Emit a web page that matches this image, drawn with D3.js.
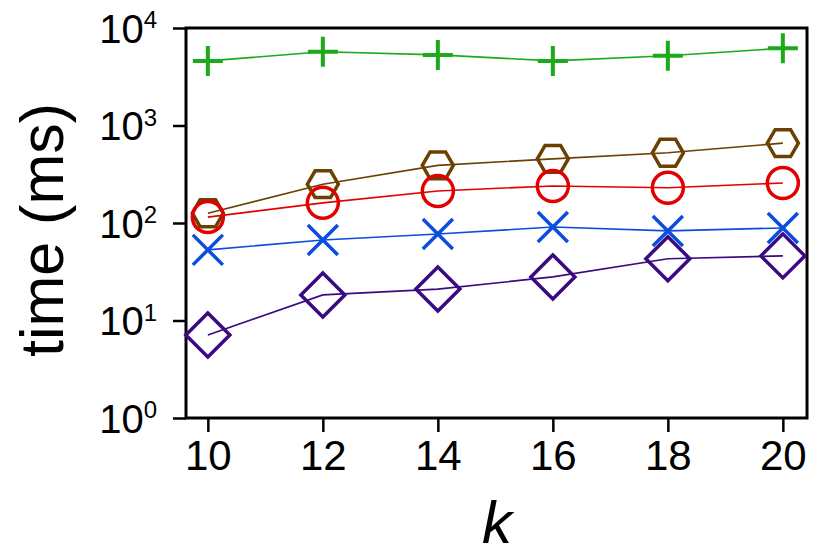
<!DOCTYPE html>
<html>
<head>
<meta charset="utf-8">
<script src="https://cdn.jsdelivr.net/npm/d3@7"></script>
<style>
  body { margin: 0; background: #fff; }
  text { font-family: "Liberation Sans", Arial, Helvetica, sans-serif; }
</style>
</head>
<body>
<svg id="chart" width="830" height="554"></svg>
<script>
// data
const ks = [10, 12, 14, 16, 18, 20]
const plusSeries    = [4600, 5700, 5300, 4600, 5200, 6200]
const hexSeries     = [126, 250, 390, 455, 525, 660]
const circleSeries  = [115, 161, 213, 240, 230, 257]
const crossSeries   = [53, 67, 77, 91, 83, 89]
const diamondSeries = [7.1, 18.3, 21, 28, 43, 46]
const yTickExps = [0, 1, 2, 3, 4]

const series = [
  { vals: plusSeries,    color: "#1aaa1a", shape: "plus" },
  { vals: hexSeries,     color: "#6b4000", shape: "hex" },
  { vals: circleSeries,  color: "#e20000", shape: "circle" },
  { vals: crossSeries,   color: "#0a4de0", shape: "cross" },
  { vals: diamondSeries, color: "#3a0a82", shape: "diamond" }
]

const svg = d3.select("#chart")
const pL = 186, pR = 807, pT = 28, pB = 418

const x = d3.scaleLinear().domain([9.62, 20.42]).range([pL, pR])
const y = d3.scaleLog().domain([1, 1e4]).range([pB, pT])

// axes box
svg.append("rect")
  .attr("x", pL).attr("y", pT)
  .attr("width", pR - pL).attr("height", pB - pT)
  .attr("fill", "none").attr("stroke", "#000").attr("stroke-width", 3)

// x axis
const gx = svg.append("g").attr("transform", "translate(0," + pB + ")")
gx.call(d3.axisBottom(x).tickValues(ks).tickSize(14).tickPadding(8).tickSizeOuter(0))
gx.select(".domain").remove()
gx.selectAll(".tick line").attr("stroke-width", 2.5)
gx.selectAll(".tick text")
  .attr("font-size", 42).attr("fill", "#000")
  .attr("dy", "0.71em")
  .style("font-family", '"Liberation Sans", Arial, sans-serif')

// y axis
const gy = svg.append("g").attr("transform", "translate(" + pL + ",0)")
gy.call(d3.axisLeft(y).tickValues(yTickExps.map(e => Math.pow(10, e))).tickSize(13).tickFormat(""))
gy.select(".domain").remove()
gy.selectAll(".tick line").attr("stroke-width", 2.5)
gy.selectAll(".tick").each(function(d) {
  const t = d3.select(this).append("text")
    .attr("x", -29).attr("y", 0).attr("dy", "0.36em")
    .attr("text-anchor", "end").attr("fill", "#000")
    .attr("font-size", 40)
  t.append("tspan").text("10")
  t.append("tspan").attr("font-size", 24).attr("dy", "-0.62em")
    .text(Math.round(Math.log10(d)))
})

// axis titles
svg.append("text")
  .attr("transform", "translate(63,230) rotate(-90)")
  .attr("text-anchor", "middle")
  .attr("font-size", 61)
  .text("time (ms)")

svg.append("text")
  .attr("x", 497).attr("y", 543)
  .attr("text-anchor", "middle")
  .attr("font-size", 60)
  .attr("font-style", "italic")
  .text("k")

// lines
const line = d3.line().x((d, i) => x(ks[i])).y(d => y(d))

series.forEach(s => {
  svg.append("path")
    .datum(s.vals)
    .attr("fill", "none")
    .attr("stroke", s.color)
    .attr("stroke-width", 1.6)
    .attr("d", line)
})

// markers
function markerPath(shape) {
  if (shape == "plus") return "M-15,0H15M0,-15V15"
  if (shape == "cross") return "M-15,-15L15,15M-15,15L15,-15"
  if (shape == "diamond") return "M0,-22L22,0L0,22L-22,0Z"
  if (shape == "hex") {
    let pts = d3.range(6).map(i => {
      const a = Math.PI / 3 * i
      return [15.5 * Math.cos(a), 15.5 * Math.sin(a)]
    })
    return "M" + pts.map(p => p.join(",")).join("L") + "Z"
  }
  return null
}

series.forEach(s => {
  const g = svg.append("g")
  s.vals.forEach((v, i) => {
    if (s.shape == "circle") {
      g.append("circle")
        .attr("cx", x(ks[i])).attr("cy", y(v)).attr("r", 15.5)
        .attr("fill", "none").attr("stroke", s.color).attr("stroke-width", 3.5)
    } else {
      g.append("path")
        .attr("transform", "translate(" + x(ks[i]) + "," + y(v) + ")")
        .attr("d", markerPath(s.shape))
        .attr("fill", "none")
        .attr("stroke", s.color)
        .attr("stroke-width", s.shape == "plus" ? 4 : 3.5)
    }
  })
})
</script>
</body>
</html>
